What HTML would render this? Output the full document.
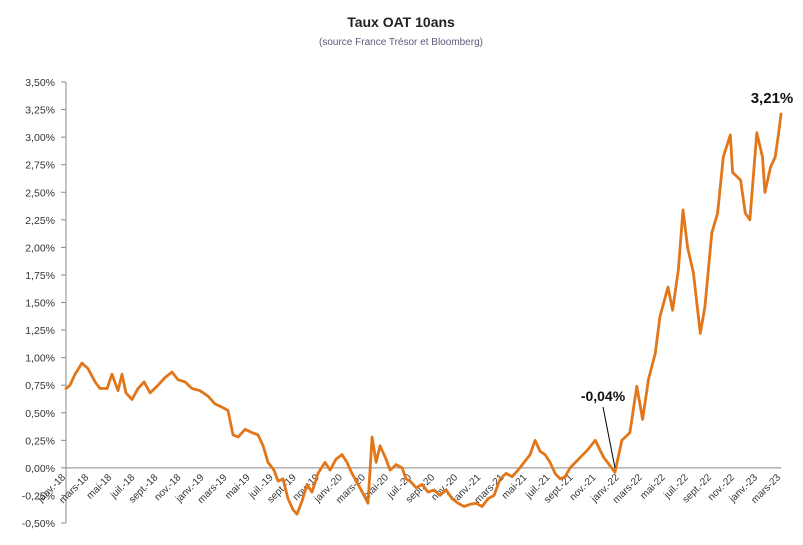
<!DOCTYPE html>
<html><head><meta charset="utf-8"><style>
body{margin:0;background:#fff;}
svg{display:block;font-family:"Liberation Sans",Calibri,sans-serif;}
</style></head><body>
<svg id="chart" width="803" height="545">
<text x="401" y="27" text-anchor="middle" font-size="14" font-weight="bold" fill="#222">Taux OAT 10ans</text>
<text x="401" y="45" text-anchor="middle" font-size="10" fill="#5b5b7b">(source France Trésor et Bloomberg)</text>
<g id="axes"></g>
<g id="series"></g>
<line x1="603" y1="407" x2="615" y2="468" stroke="#000" stroke-width="1"/>
<text x="603" y="401" text-anchor="middle" font-size="14" font-weight="bold" fill="#111">-0,04%</text>
<text x="772" y="103" text-anchor="middle" font-size="15" font-weight="bold" fill="#111">3,21%</text>
</svg>
<script>
const yTicks=[-0.5,-0.25,0,0.25,0.5,0.75,1,1.25,1.5,1.75,2,2.25,2.5,2.75,3,3.25,3.5];
const xLabels=["janv.-18","mars-18","mai-18","juil.-18","sept.-18","nov.-18","janv.-19","mars-19","mai-19","juil.-19","sept.-19","nov.-19","janv.-20","mars-20","mai-20","juil.-20","sept.-20","nov.-20","janv.-21","mars-21","mai-21","juil.-21","sept.-21","nov.-21","janv.-22","mars-22","mai-22","juil.-22","sept.-22","nov.-22","janv.-23","mars-23"];
const months=[0,0.35,0.78,1.39,1.91,2.52,2.95,3.56,3.99,4.51,4.86,5.2,5.72,6.24,6.77,7.29,7.98,8.59,9.19,9.71,10.32,10.93,11.62,12.32,12.92,13.53,14.05,14.48,14.92,15.53,16.13,16.65,17.09,17.52,18.04,18.39,18.82,19.25,19.69,20.03,20.47,20.9,21.33,21.85,22.46,22.9,23.42,23.94,24.37,24.8,25.33,25.85,26.19,26.54,26.89,27.23,27.67,28.1,28.62,29.14,29.49,29.84,30.36,30.88,31.4,31.92,32.44,32.96,33.48,34.0,34.52,35.04,35.56,36.08,36.6,37.12,37.64,38.16,38.68,39.2,39.72,40.24,40.68,41.11,41.54,41.98,42.41,42.85,43.28,43.71,45.2,45.9,46.6,47.6,48.2,48.9,49.5,50.0,50.5,51.1,51.5,52.2,52.6,53.1,53.5,53.9,54.4,55.0,55.4,56.0,56.5,57.0,57.6,57.8,58.5,58.9,59.3,59.9,60.4,60.6,61.1,61.5,61.8,62];
const rates=[0.72,0.75,0.85,0.95,0.9,0.78,0.72,0.72,0.85,0.7,0.85,0.68,0.62,0.72,0.78,0.68,0.75,0.82,0.87,0.8,0.78,0.72,0.7,0.65,0.58,0.55,0.52,0.3,0.28,0.35,0.32,0.3,0.2,0.05,-0.02,-0.12,-0.1,-0.28,-0.38,-0.42,-0.3,-0.15,-0.22,-0.05,0.05,-0.02,0.08,0.12,0.05,-0.05,-0.15,-0.25,-0.32,0.28,0.05,0.2,0.1,-0.02,0.03,0.0,-0.1,-0.12,-0.18,-0.15,-0.22,-0.2,-0.25,-0.2,-0.28,-0.32,-0.35,-0.33,-0.32,-0.35,-0.28,-0.25,-0.1,-0.05,-0.08,-0.02,0.05,0.12,0.25,0.15,0.12,0.05,-0.05,-0.1,-0.08,0.0,0.16,0.25,0.1,-0.04,0.25,0.32,0.74,0.44,0.8,1.04,1.37,1.64,1.43,1.8,2.34,2.0,1.77,1.22,1.46,2.13,2.31,2.82,3.02,2.68,2.61,2.31,2.25,3.04,2.82,2.5,2.73,2.82,3.04,3.21];
const NS="http://www.w3.org/2000/svg";
const X0=66,X1=781,Y0=523,Y1=82;
const xs=m=>X0+m/62*(X1-X0);
const ys=v=>Y0-(v+0.5)/4*(Y0-Y1);
const axes=document.getElementById('axes');
function mk(tag,at,parent){const e=document.createElementNS(NS,tag);for(const k in at)e.setAttribute(k,at[k]);parent.appendChild(e);return e;}
const yl=mk('line',{x1:X0,y1:Y1,x2:X0,y2:Y0,stroke:'#888','stroke-width':1},axes);


yTicks.forEach(v=>{
  const y=ys(v);
  const t=mk('line',{x1:X0-5,y1:y,x2:X0,y2:y,stroke:'#888'},axes);
  
  
  const tx=mk('text',{x:55,y:y+4,'text-anchor':'end','font-size':10.5,fill:'#333'},axes);
  tx.textContent=v.toFixed(2).replace('.',',')+'%';
  
  
});
const zl=mk('line',{x1:X0,y1:ys(0),x2:X1,y2:ys(0),stroke:'#888','stroke-width':1},axes);


xLabels.forEach((l,i)=>{
  const x=xs(i*2),y=ys(0)+10;
  const tx=mk('text',{x:x,y:y,'text-anchor':'end','font-size':10,fill:'#333',transform:`rotate(-45 ${x} ${y})`},axes);
  tx.textContent=l;
  
  
});
const d=months.map((m,i)=>(i?'L':'M')+xs(m).toFixed(1)+' '+ys(rates[i]).toFixed(1)).join(' ');
const p=mk('path',{d:d,fill:'none',stroke:'#E2761A','stroke-width':2.8,'stroke-linejoin':'round','stroke-linecap':'round'},document.getElementById('series'));


</script>
</body></html>
